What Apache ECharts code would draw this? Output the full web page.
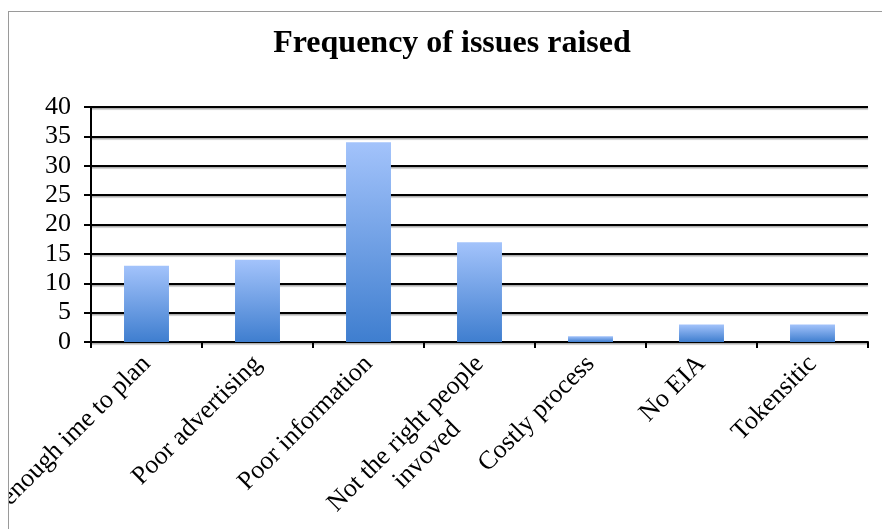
<!DOCTYPE html>
<html>
<head>
<meta charset="utf-8">
<script src="https://cdn.jsdelivr.net/npm/echarts@6/dist/echarts.min.js"></script>
<style>
html,body{margin:0;padding:0;background:#fff;width:882px;height:529px;overflow:hidden;}
#frame{position:absolute;left:8px;top:11px;width:900px;height:540px;border:1.5px solid #9a9a9a;overflow:hidden;box-sizing:border-box;}
#chart{position:absolute;left:-9.5px;top:-12.5px;width:882px;height:529px;}
</style>
</head>
<body>
<div id="frame"><div id="chart"></div></div>
<script>
const categories = ["Not enough ime to plan", "Poor advertising", "Poor information", "Not the right people\ninvoved", "Costly process", "No EIA", "Tokensitic"];
const values = [13, 14, 34, 17, 1, 3, 3];
const yTicks = [0, 5, 10, 15, 20, 25, 30, 35, 40];

const LINE_H = 30;
const axisData = categories.map(function (c) {
  const n = c.split('\n').length;
  return n > 1 ? {value: c, textStyle: {padding: [LINE_H * (n - 1), 0, 0, 0]}} : c;
});

const chart = echarts.init(document.getElementById('chart'));
chart.setOption({
  backgroundColor: '#fff',
  animation: false,
  title: {
    text: 'Frequency of issues raised',
    left: 447, textAlign: 'center', top: 23,
    textStyle: {fontFamily: 'Liberation Serif', fontWeight: 'bold', fontSize: 32, color: '#000'}
  },
  grid: {left: 91, right: 14, top: 107, bottom: 187, containLabel: false, outerBoundsMode: 'none'},
  xAxis: {
    type: 'category',
    data: axisData,
    boundaryGap: true,
    axisLine: {lineStyle: {color: '#000', width: 2}},
    axisTick: {show: true, alignWithLabel: false, length: 6, lineStyle: {color: '#000', width: 2}},
    axisLabel: {
      rotate: 45, margin: 18, interval: 0, hideOverlap: false,
      fontFamily: 'Liberation Serif', fontSize: 26, color: '#000', lineHeight: LINE_H,
      formatter: function (v) { return v.split('\n').map(function (s) { return '{c|' + s + '}'; }).join('\n'); },
      rich: {c: {align: 'center', fontFamily: 'Liberation Serif', fontSize: 26, color: '#000', lineHeight: LINE_H}}
    },
    splitLine: {show: false}
  },
  yAxis: {
    type: 'value',
    min: yTicks[0], max: yTicks[yTicks.length - 1], interval: 5,
    axisLine: {show: true, lineStyle: {color: '#000', width: 2}},
    axisTick: {show: true, length: 7, lineStyle: {color: '#000', width: 2}},
    axisLabel: {margin: 20, fontFamily: 'Liberation Serif', fontSize: 26, color: '#000'},
    splitLine: {show: true, lineStyle: {color: '#000', width: 2, shadowColor: 'rgba(0,0,0,0.35)', shadowOffsetY: 1.5, shadowBlur: 1}}
  },
  series: [{
    type: 'bar',
    data: values,
    barWidth: '40.5%',
    itemStyle: {
      color: new echarts.graphic.LinearGradient(0, 0, 0, 1, [
        {offset: 0, color: '#a3c3fb'},
        {offset: 1, color: '#3f7ecf'}
      ])
    }
  }]
});
</script>
</body>
</html>
